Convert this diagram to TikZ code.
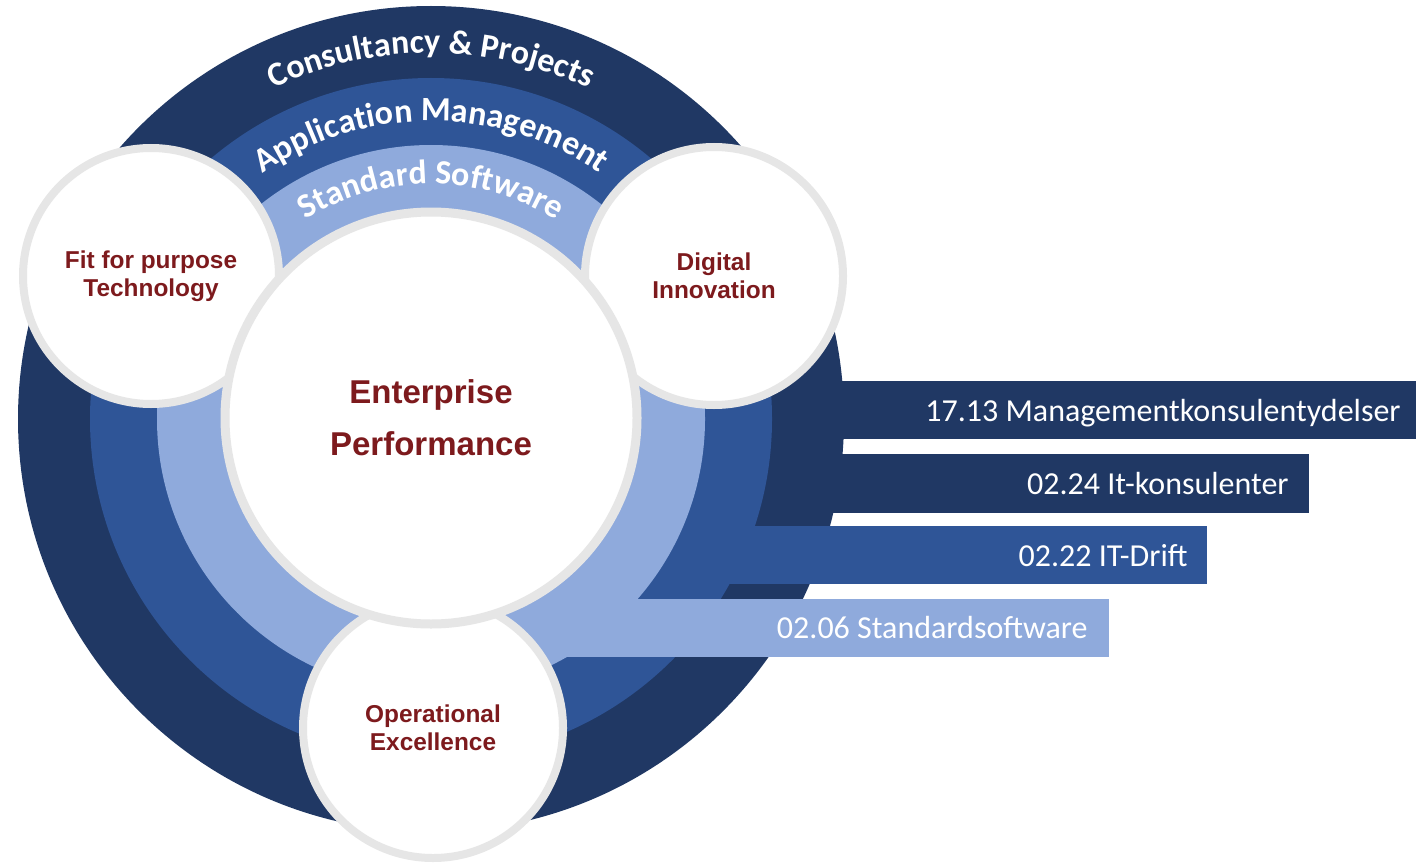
\documentclass[tikz,border=0pt]{standalone}
\usepackage{fontspec}
\setmainfont{Liberation Sans}
\newfontfamily\barfont{Carlito}
\newcommand\arcfont{\barfont\bfseries\fontsize{17}{20}\selectfont}
\usetikzlibrary{decorations.text}
\definecolor{ringdark}{HTML}{203864}
\definecolor{ringmid}{HTML}{2F5597}
\definecolor{ringlight}{HTML}{8FAADC}
\definecolor{rimgray}{HTML}{E6E6E6}
\definecolor{labelred}{RGB}{125,26,29}

\begin{document}
\begin{tikzpicture}[x=0.5pt,y=0.5pt,
	bartext/.style = {anchor=base east, inner sep=0pt, text=white, font=\barfont\fontsize{16}{18}\selectfont},
	arctext/.style = {decorate, decoration={text along path, text align=center, text color=white}}]
					\useasboundingbox (0,0) rectangle (1416,864);
					\fill [ringdark] (431,445) circle [radius=206.5pt];
					\fill [ringdark] (431,425) rectangle (1416,483);
					\fill [ringdark] (431,351) rectangle (1309,410);
					\fill [ringmid] (431,445) circle [radius=170.5pt];
					\fill [ringmid] (431,280) rectangle (1207,338);
					\fill [ringlight] (431,445) circle [radius=137pt];
					\fill [ringlight] (431,207) rectangle (1109,265);
					\path [arctext, decoration={text={|\arcfont|Consultancy {\&} Projects}}] (65,445) arc [start angle=180, end angle=0, radius=183pt];
					\path [arctext, decoration={text={|\arcfont|Application Management}}] (133,445) arc [start angle=180, end angle=0, radius=149pt];
					\path [arctext, decoration={text={|\arcfont|Standard Software}}] (196,445) arc [start angle=180, end angle=0, radius=117.5pt];
					\node[bartext] (mgmt) at (1401,443) {17.13 Managementkonsulentydelser};
					\node[bartext] (itkons) at (1289,370) {02.24 It-konsulenter};
					\node[bartext] (itdrift) at (1188,297.5) {02.22 IT-Drift};
					\node[bartext] (stdsw) at (1088,226) {02.06 Standardsoftware};
					\begin{scope}[every node/.style={circle,draw=rimgray,line width=4pt,fill=white,inner sep=0pt,align=center,text=labelred,font=\bfseries\fontsize{12.2}{14}\selectfont}]
						\node[minimum size=128pt] (fit) at (151,588) {Fit for purpose\\Technology};
						\node[minimum size=129pt] (digital) at (714,588) {Digital\\Innovation};
						\node[minimum size=130pt] (operational) at (433,136) {Operational\\Excellence};
						\node[minimum size=206pt,line width=4.5pt,font=\bfseries\fontsize{16.5}{26}\selectfont] (enterprise) at (431,446) {Enterprise\\Performance};
					\end{scope}
				\end{tikzpicture}
\end{document}
